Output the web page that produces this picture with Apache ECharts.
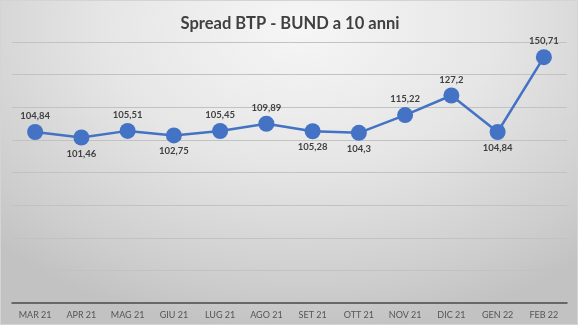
<!DOCTYPE html>
<html>
<head>
<meta charset="utf-8">
<script src="https://cdn.jsdelivr.net/npm/echarts@6/dist/echarts.min.js"></script>
<style>
  html, body { margin: 0; padding: 0; background: #ffffff; }
  #frame {
    position: absolute; left: 0; top: 0; width: 576px; height: 323px;
    border: 1px solid #d4d4d4;
    background: radial-gradient(ellipse 75% 95% at 52% 8%, #f6f6f6 0%, #e6e6e6 45%, #cdcdcd 85%, #c2c2c2 100%);
  }
  #chart { width: 580px; height: 328px; position: absolute; left: 0; top: 0; }
</style>
</head>
<body>
<div id="frame"></div>
<div id="chart"></div>
<script>
// Monthly 10-year BTP-BUND spread (basis points)
const months = ['MAR 21', 'APR 21', 'MAG 21', 'GIU 21', 'LUG 21', 'AGO 21',
                'SET 21', 'OTT 21', 'NOV 21', 'DIC 21', 'GEN 22', 'FEB 22'];
const spread = [104.84, 101.46, 105.51, 102.75, 105.45, 109.89,
                105.28, 104.3, 115.22, 127.2, 104.84, 150.71];
// where each value label sits relative to its point
const labelSide = ['top', 'bottom', 'top', 'bottom', 'top', 'top',
                   'bottom', 'bottom', 'top', 'top', 'bottom', 'top'];

const fmt = v => String(v).replace('.', ',');

const chart = echarts.init(document.getElementById('chart'), null, { renderer: 'canvas' });
chart.setOption({
  backgroundColor: 'transparent',
  animation: false,
  title: {
    text: 'Spread BTP - BUND a 10 anni',
    left: 'center',
    top: 10,
    textStyle: { fontFamily: 'Lato', fontWeight: 'bold', fontSize: 16.5, color: '#404040' }
  },
  grid: { left: 12, right: 13, top: 42, bottom: 25, containLabel: false },
  xAxis: {
    type: 'category',
    data: months,
    boundaryGap: true,
    axisLine: { lineStyle: { color: '#4a4a4a', width: 1.5 } },
    axisTick: { show: false },
    axisLabel: { fontFamily: 'Lato', fontSize: 9, color: '#555555', margin: 8 }
  },
  yAxis: {
    type: 'value',
    min: 0, max: 160, interval: 20,
    axisLabel: { show: false },
    axisLine: { show: false },
    axisTick: { show: false },
    splitLine: { lineStyle: { color: '#c2c2c2', width: 1 } }
  },
  series: [{
    type: 'line',
    data: spread.map((v, i) => ({
      value: v,
      label: { position: labelSide[i] }
    })),
    symbol: 'circle',
    symbolSize: 16,
    lineStyle: { color: '#4472C4', width: 2.5 },
    itemStyle: { color: '#4472C4' },
    label: {
      show: true,
      distance: 3,
      formatter: p => fmt(p.value),
      fontFamily: 'Lato', fontWeight: 'bold', fontSize: 9.5, color: '#404040'
    }
  }]
});
</script>
</body>
</html>
